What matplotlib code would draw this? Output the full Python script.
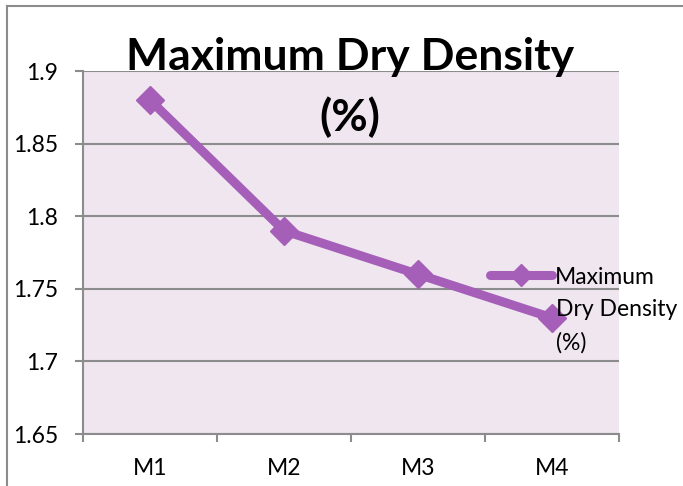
import matplotlib
matplotlib.use("Agg")
import matplotlib.pyplot as plt
from matplotlib.lines import Line2D

categories = ["M1", "M2", "M3", "M4"]
values = [1.88, 1.79, 1.76, 1.73]
yticks = [1.65, 1.7, 1.75, 1.8, 1.85, 1.9]
ytick_labels = ["1.65", "1.7", "1.75", "1.8", "1.85", "1.9"]
series_lines = ["Maximum", "Dry Density", "(%)"]
title_lines = ["Maximum Dry Density", "(%)"]

plt.rcParams['font.family'] = ['Lato', 'DejaVu Sans']
W, H = 683, 486
fig = plt.figure(figsize=(W / 100, H / 100), dpi=100)

# outer chart border (only left and top visible)
fig.add_artist(Line2D([7 / W, 7 / W], [0, 1 - 6 / H], transform=fig.transFigure,
                      color="#8c8c8c", linewidth=1.5))
fig.add_artist(Line2D([7 / W, 1], [1 - 6 / H, 1 - 6 / H], transform=fig.transFigure,
                      color="#8c8c8c", linewidth=1.5))

left, right, top, bottom = 83, 619, 71, 434
ax = fig.add_axes([left / W, 1 - bottom / H, (right - left) / W, (bottom - top) / H])
ax.set_facecolor("#EFE6F0")
purple = "#A55FB8"
fs = 16.5
x = list(range(len(categories)))
ax.plot(x, values, color=purple, linewidth=6.5, marker="D", markersize=14,
        markeredgecolor=purple, solid_joinstyle="miter")
ax.set_xlim(-0.5, len(categories) - 0.5)
ax.set_ylim(1.65, 1.9)
ax.set_yticks(yticks)
ax.set_yticklabels(ytick_labels, fontsize=fs)
ax.set_xticks(x)
ax.set_xticklabels(categories, fontsize=fs)
ax.set_xticks([i - 0.5 for i in range(len(categories) + 1)], minor=True)
ax.tick_params(axis="x", which="major", length=0, pad=17)
ax.tick_params(axis="x", which="minor", length=6, color="#8c8c8c", width=1.5)
ax.tick_params(axis="y", length=6, color="#8c8c8c", width=1.5, pad=12)
ax.grid(axis="y", color="#8c8c8c", linewidth=1.5)
ax.set_axisbelow(True)
for s in ["top", "right"]:
    ax.spines[s].set_visible(False)
for s in ["left", "bottom"]:
    ax.spines[s].set_color("#8c8c8c")
    ax.spines[s].set_linewidth(1.5)

fig.text(350 / W, 1 - 57 / H, title_lines[0], ha="center", va="center",
         fontsize=32, fontweight="bold")
fig.text(350 / W, 1 - 117 / H, title_lines[1], ha="center", va="center",
         fontsize=32, fontweight="bold")

handle = Line2D([], [], color=purple, linewidth=6.5, marker="D", markersize=11,
                solid_capstyle="round")
leg = fig.legend([handle], [series_lines[0]], loc="center left",
                 bbox_to_anchor=(490 / W, 1 - 277 / H), frameon=False,
                 fontsize=fs, handlelength=2.7, handletextpad=0.15,
                 borderaxespad=0, borderpad=0)
fig.text(556 / W, 1 - 310 / H, series_lines[1], ha="left", va="center", fontsize=fs)
fig.text(556 / W, 1 - 343 / H, series_lines[2], ha="left", va="center", fontsize=fs)

fig.savefig("out.png", dpi=100)
